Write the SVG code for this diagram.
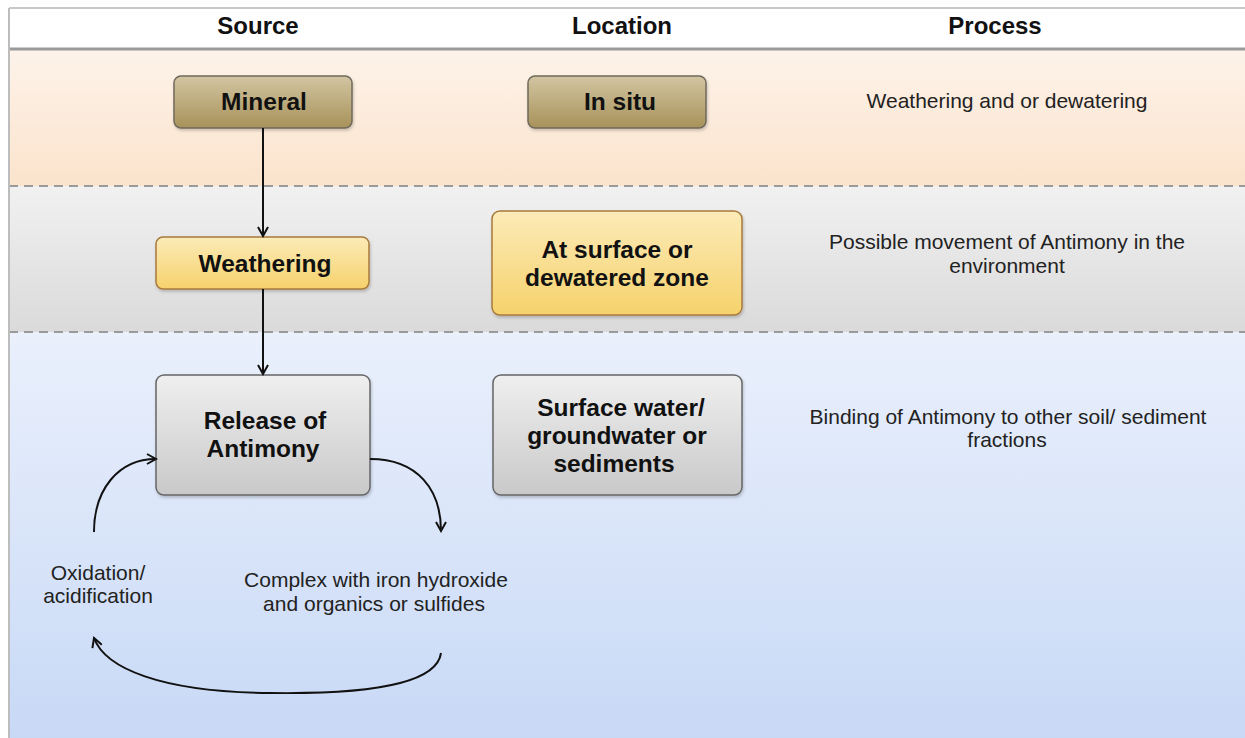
<svg xmlns="http://www.w3.org/2000/svg" width="1245" height="738" viewBox="0 0 1245 738">
<defs>
<linearGradient id="gPeach" x1="0" y1="0" x2="0" y2="1"><stop offset="0" stop-color="#fdf3ea"/><stop offset="1" stop-color="#fbe3cc"/></linearGradient>
<linearGradient id="gGray" x1="0" y1="0" x2="0" y2="1"><stop offset="0" stop-color="#f1f1f1"/><stop offset="1" stop-color="#dadada"/></linearGradient>
<linearGradient id="gBlue" x1="0" y1="0" x2="0" y2="1"><stop offset="0" stop-color="#eaf0fc"/><stop offset="1" stop-color="#c8d9f6"/></linearGradient>
<linearGradient id="gMin" x1="0" y1="0" x2="0" y2="1"><stop offset="0" stop-color="#d2c5a2"/><stop offset="1" stop-color="#a8925a"/></linearGradient>
<linearGradient id="gYel" x1="0" y1="0" x2="0" y2="1"><stop offset="0" stop-color="#fcebb8"/><stop offset="1" stop-color="#f6d26c"/></linearGradient>
<linearGradient id="gBox" x1="0" y1="0" x2="0" y2="1"><stop offset="0" stop-color="#efefef"/><stop offset="1" stop-color="#c9c9c9"/></linearGradient>
<filter id="sh" x="-10%" y="-10%" width="130%" height="140%"><feDropShadow dx="1" dy="2" stdDeviation="1.5" flood-color="#000" flood-opacity="0.2"/></filter>
<marker id="arr" markerWidth="12" markerHeight="12" refX="10" refY="6" orient="auto" markerUnits="userSpaceOnUse">
<path d="M1,1 L10,6 L1,11" fill="none" stroke="#111" stroke-width="2"/>
</marker>
</defs>
<style>
.hd{font-family:"Liberation Sans",Arial,sans-serif;font-weight:bold;font-size:24px;fill:#111;text-anchor:middle}
.nb{font-family:"Liberation Sans",Arial,sans-serif;font-weight:bold;font-size:24.5px;fill:#111;text-anchor:middle}
.tx{font-family:"Liberation Sans",Arial,sans-serif;font-size:21px;fill:#222;text-anchor:middle}
.dash{stroke:#9a9a9a;stroke-width:2;stroke-dasharray:9 6;fill:none}
.edge{stroke:#111;stroke-width:2;fill:none}
</style>
<rect x="0" y="0" width="1245" height="738" fill="#ffffff"/>
<g id="lanes">
<rect x="9" y="8" width="1236" height="41" fill="#ffffff"/>
<line x1="9" y1="8" x2="1245" y2="8" stroke="#c8c8c8" stroke-width="2"/>
<rect x="9" y="49" width="1236" height="137" fill="url(#gPeach)"/>
<rect x="9" y="186" width="1236" height="146" fill="url(#gGray)"/>
<rect x="9" y="332" width="1236" height="406" fill="url(#gBlue)"/>
<line x1="9" y1="49" x2="1245" y2="49" stroke="#9a9a9a" stroke-width="3"/>
<line x1="9" y1="186" x2="1245" y2="186" class="dash"/>
<line x1="9" y1="332" x2="1245" y2="332" class="dash"/>
<line x1="9" y1="8" x2="9" y2="738" stroke="#bdbdbd" stroke-width="2"/>
<text class="hd" x="258" y="34">Source</text>
<text class="hd" x="622" y="34">Location</text>
<text class="hd" x="995" y="34">Process</text>
</g>
<g id="mineral">
<rect x="174" y="76" width="178" height="52" rx="7" fill="url(#gMin)" stroke="#6f6a5c" stroke-width="1.5" filter="url(#sh)"/>
<text class="nb" x="264" y="110">Mineral</text>
</g>
<g id="insitu">
<rect x="528" y="76" width="178" height="52" rx="7" fill="url(#gMin)" stroke="#6f6a5c" stroke-width="1.5" filter="url(#sh)"/>
<text class="nb" x="620" y="110">In situ</text>
</g>
<g id="weathering">
<rect x="156" y="237" width="213" height="52" rx="7" fill="url(#gYel)" stroke="#a87a3c" stroke-width="1.5" filter="url(#sh)"/>
<text class="nb" x="265" y="272">Weathering</text>
</g>
<g id="surface">
<rect x="492" y="211" width="250" height="104" rx="8" fill="url(#gYel)" stroke="#a87a3c" stroke-width="1.5" filter="url(#sh)"/>
<text class="nb" x="617" y="258">At surface or</text>
<text class="nb" x="617" y="286">dewatered zone</text>
</g>
<g id="release">
<rect x="156" y="375" width="214" height="120" rx="8" fill="url(#gBox)" stroke="#666" stroke-width="1.5" filter="url(#sh)"/>
<text class="nb" x="265" y="429">Release of</text>
<text class="nb" x="263" y="457">Antimony</text>
</g>
<g id="water">
<rect x="493" y="375" width="249" height="120" rx="8" fill="url(#gBox)" stroke="#666" stroke-width="1.5" filter="url(#sh)"/>
<text class="nb" x="621" y="416">Surface water/</text>
<text class="nb" x="617" y="444">groundwater or</text>
<text class="nb" x="614" y="472">sediments</text>
</g>
<g id="process-texts">
<text class="tx" x="1007" y="108">Weathering and or dewatering</text>
<text class="tx" x="1007" y="249">Possible movement of Antimony in the</text>
<text class="tx" x="1007" y="273">environment</text>
<text class="tx" x="1008" y="424">Binding of Antimony to other soil/ sediment</text>
<text class="tx" x="1007" y="447">fractions</text>
</g>
<g id="oxidation">
<text class="tx" x="98" y="580">Oxidation/</text>
<text class="tx" x="98" y="603">acidification</text>
</g>
<g id="complex">
<text class="tx" x="376" y="587">Complex with iron hydroxide</text>
<text class="tx" x="374" y="611">and organics or sulfides</text>
</g>
<g id="connectors">
<line class="edge" x1="263" y1="128" x2="263" y2="236" marker-end="url(#arr)"/>
<line class="edge" x1="263" y1="289" x2="263" y2="374" marker-end="url(#arr)"/>
<path class="edge" d="M370,459 C418,459 441,490 441,531" marker-end="url(#arr)"/>
<path class="edge" d="M441,653 C436,690 340,694 270,693 C160,692 105,668 94,638" marker-end="url(#arr)"/>
<path class="edge" d="M94,532 C94,490 118,459 156,459" marker-end="url(#arr)"/>
</g>
</svg>
